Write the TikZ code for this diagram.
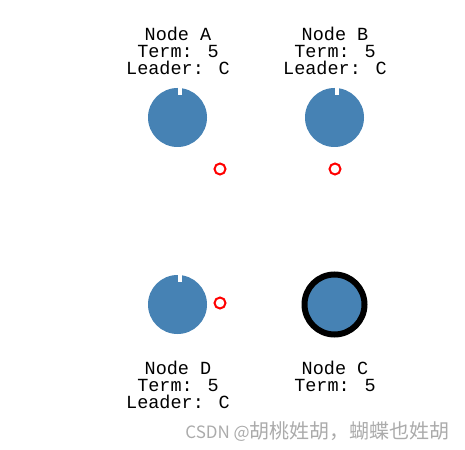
\documentclass[tikz,border=0pt]{standalone}
\usepackage{fontspec}
\newfontfamily\monofont{Liberation Mono}
\newfontfamily\cjk{Noto Sans CJK SC}
\definecolor{steel}{HTML}{4682B4}
\definecolor{wm}{HTML}{ABABAB}
\begin{document}
\begin{tikzpicture}[x=1pt,y=-1pt,
  lbl/.style={font=\monofont\fontsize{18.5}{17}\selectfont, anchor=base, inner sep=0pt},
  ball/.style={circle, fill=steel, minimum size=59pt, inner sep=0pt},
  leaderball/.style={circle, fill=steel, draw=black, line width=6pt, minimum size=60pt, inner sep=0pt},
  vote/.style={circle, draw=red, line width=2pt, minimum size=11pt, inner sep=0pt},
  notch/.style={fill=white}]
\useasboundingbox (0,0) rectangle (465,449);
% balls
\node[ball] (A) at (177.5,117.5) {};
\node[ball] (B) at (334.5,117.5) {};
\node[ball] (D) at (177.5,304.5) {};
\node[leaderball] (C) at (334.5,304.5) {};
\fill[notch] (A.north) rectangle ++(4,7);
\fill[notch] (B.north) rectangle ++(4,7);
\fill[notch] (D.north) rectangle ++(4,7);
% red markers
\node[vote] (rA) at (220,169) {};
\node[vote] (rB) at (335,169) {};
\node[vote] (rD) at (220,303) {};
% labels
\node[lbl] (A1) at (178,41) {Node A};
\node[lbl] (A2) at (178,58) {Term: 5};
\node[lbl] (A3) at (178,75) {Leader: C};
\node[lbl] (B1) at (335,41) {Node B};
\node[lbl] (B2) at (335,58) {Term: 5};
\node[lbl] (B3) at (335,75) {Leader: C};
\node[lbl] (D1) at (178,374) {Node D};
\node[lbl] (D2) at (178,391) {Term: 5};
\node[lbl] (D3) at (178,408) {Leader: C};
\node[lbl] (C1) at (335,374) {Node C};
\node[lbl] (C2) at (335,391) {Term: 5};
% watermark
\node[anchor=base east, inner sep=0pt, text=wm, font=\cjk\fontsize{20}{20}\selectfont] (wmk) at (450,438) {{\fontsize{17}{17}\selectfont CSDN @}胡桃姓胡，蝴蝶也姓胡};
\end{tikzpicture}
\end{document}
